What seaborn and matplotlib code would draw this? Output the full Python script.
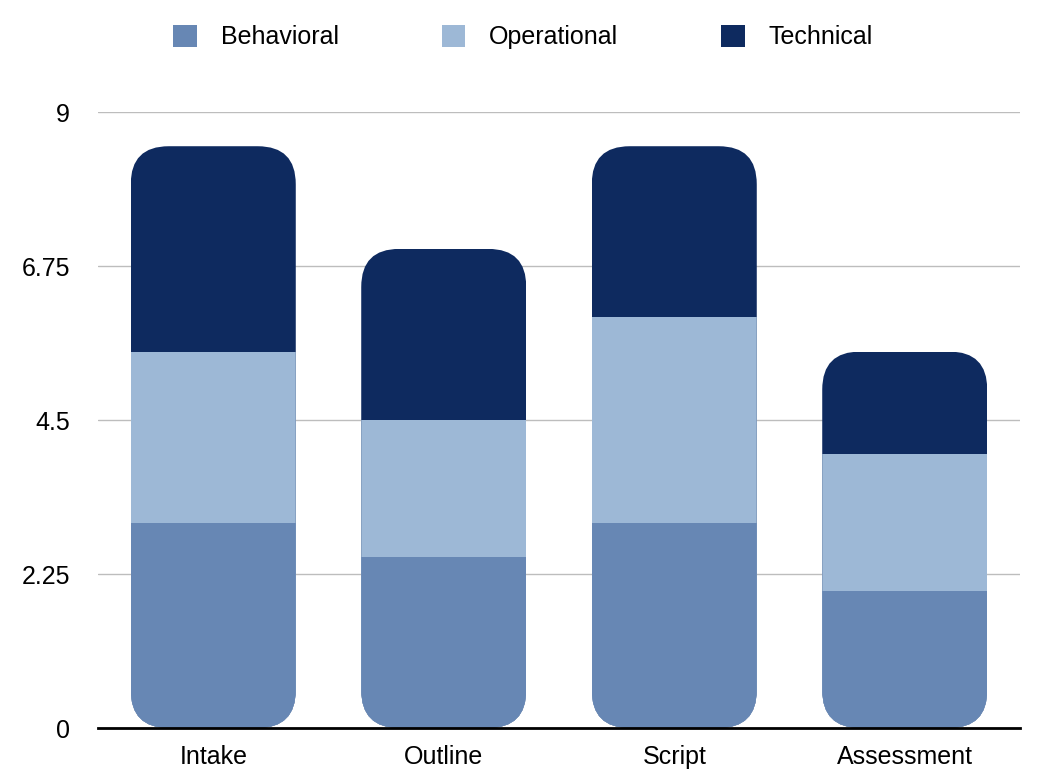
import pandas as pd
import matplotlib
matplotlib.use("Agg")
import matplotlib.pyplot as plt
import seaborn as sns
from matplotlib.patches import FancyBboxPatch, Patch

# dados
stages = ["Intake", "Outline", "Script", "Assessment"]
behavioral = [3, 2.5, 3, 2]
operational = [2.5, 2, 3, 2]
technical = [3, 2.5, 2.5, 1.5]
series = ["Behavioral", "Operational", "Technical"]
colors = {"Behavioral": "#6787B4", "Operational": "#9DB8D6", "Technical": "#0E2A5F"}
yticks = [0, 2.25, 4.5, 6.75, 9]
ytick_labels = ["0", "2.25", "4.5", "6.75", "9"]

# tabela longa com valores acumulados (desenha do mais alto pro mais baixo)
rows = []
for i, s in enumerate(stages):
    c1 = behavioral[i]
    c2 = c1 + operational[i]
    c3 = c2 + technical[i]
    rows.append({"stage": s, "series": "Technical", "cum": c3})
    rows.append({"stage": s, "series": "Operational", "cum": c2})
    rows.append({"stage": s, "series": "Behavioral", "cum": c1})
df = pd.DataFrame(rows)
totals = [behavioral[i] + operational[i] + technical[i] for i in range(len(stages))]

sns.set_style("white")
plt.rcParams["font.family"] = ["Liberation Sans", "DejaVu Sans"]
plt.rcParams["text.color"] = "black"
plt.rcParams["xtick.color"] = "black"
plt.rcParams["ytick.color"] = "black"

W, H = 1042, 778
fig = plt.figure(figsize=(W / 100, H / 100), dpi=100)
ax_l, ax_r, ax_b, ax_t = 98, 1020, 728, 112
ax = fig.add_axes([ax_l / W, 1 - ax_b / H, (ax_r - ax_l) / W, (ax_b - ax_t) / H])

bar_w = 0.716
sns.barplot(data=df, x="stage", y="cum", hue="series", order=stages,
            hue_order=["Technical", "Operational", "Behavioral"],
            palette=colors, dodge=False, width=bar_w, saturation=1,
            legend=False, ax=ax, zorder=3, linewidth=0, edgecolor="none")

ax.set_xlim(-0.5, len(stages) - 0.5)
ax.set_ylim(0, 9)

# cantos arredondados: recorta cada coluna com uma caixa arredondada
px_x = len(stages) / (ax_r - ax_l)
px_y = 9 / (ax_b - ax_t)
r_px = 38
clips = []
for i, tot in enumerate(totals):
    box = FancyBboxPatch((i - bar_w / 2, 0), bar_w, tot,
                         boxstyle=f"round,pad=0,rounding_size={r_px * px_x}",
                         mutation_aspect=px_y / px_x, transform=ax.transData)
    clips.append(box)
for p in ax.patches:
    cx = p.get_x() + p.get_width() / 2
    idx = int(round(cx))
    if 0 <= idx < len(clips):
        p.set_clip_path(clips[idx])

ax.set_yticks(yticks)
ax.set_yticklabels(ytick_labels)
ax.yaxis.grid(True, color="#BDBDBD", linewidth=1, zorder=0)
ax.set_axisbelow(True)
for side in ["top", "right", "left"]:
    ax.spines[side].set_visible(False)
ax.spines["bottom"].set_color("black")
ax.spines["bottom"].set_linewidth(2)
ax.spines["bottom"].set_zorder(5)
ax.tick_params(axis="y", length=0, pad=20, labelsize=18)
ax.tick_params(axis="x", length=0, pad=12, labelsize=18)
ax.set_xlabel("")
ax.set_ylabel("")

handles = [Patch(facecolor=colors[s], edgecolor="none") for s in series]
fig.legend(handles, series, loc="upper center", bbox_to_anchor=(0.502, 1.0),
           ncol=3, frameon=False, fontsize=18, handlelength=0.95,
           handleheight=0.95, handletextpad=0.96, columnspacing=4.1,
           borderaxespad=0.6)

plt.savefig("out.png", dpi=100)
